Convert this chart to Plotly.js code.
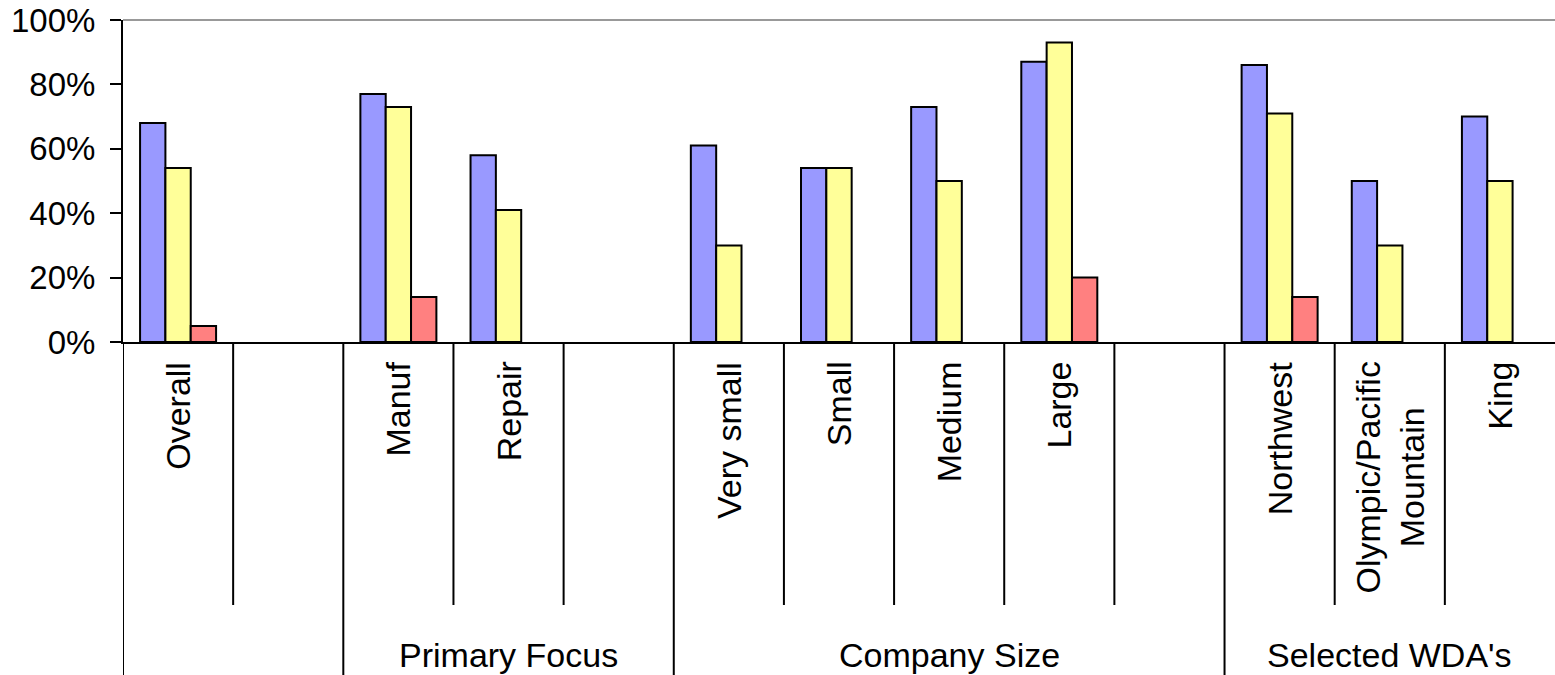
<!DOCTYPE html>
<html>
<head>
<meta charset="utf-8">
<script src="https://cdn.plot.ly/plotly-3.0.1.min.js"></script>
<style>html,body{margin:0;padding:0;background:#fff;}#chart{width:1555px;height:675px;}</style>
</head>
<body>
<div id="chart"></div>
<script>
// Category slots (blank slots are spacers between groups)
const categories = ["Overall", "", "Manuf", "Repair", "", "Very small", "Small", "Medium", "Large", "", "Northwest", "Olympic/Pacific<br>Mountain", "King"];
const series1 = [0.68, null, 0.77, 0.58, null, 0.61, 0.54, 0.73, 0.87, null, 0.86, 0.50, 0.70];
const series2 = [0.54, null, 0.73, 0.41, null, 0.30, 0.54, 0.50, 0.93, null, 0.71, 0.30, 0.50];
const series3 = [0.05, null, 0.14, null, null, null, null, null, 0.20, null, 0.14, null, null];
const groupLabels = ["", "Primary Focus", "Company Size", "Selected WDA's"];
const groupStarts = [0, 2, 5, 10];
const groupEnds = [1, 4, 9, 12];
const yTicks = [0, 0.2, 0.4, 0.6, 0.8, 1.0];

const xs = categories.map((_, i) => i);
const font = "Arial, 'Liberation Sans', sans-serif";
const fs = 34;

function barTrace(name, vals, color) {
  return {
    type: "bar", name: name, x: xs, y: vals,
    marker: {color: color, line: {color: "#000", width: 2}},
    hoverinfo: "y"
  };
}

const data = [
  barTrace("Series 1", series1, "#9999FF"),
  barTrace("Series 2", series2, "#FFFF99"),
  barTrace("Series 3", series3, "#FF8080")
];

const shapes = [];
const annotations = [];
// top border line
shapes.push({type: "line", xref: "paper", yref: "paper", x0: 0, x1: 1, y0: 1, y1: 1, line: {color: "#999", width: 2}});
// dividers between slots
const outer = new Set(groupStarts.map(s => s - 0.5));
for (let i = 0; i < categories.length; i++) {
  const b = i - 0.5;
  const isOuter = outer.has(b);
  shapes.push({type: "line", xref: "x", yref: "paper", x0: b, x1: b, y0: 0, y1: isOuter ? -1.04 : -0.817, line: {color: "#000", width: 2}});
}
// category labels
categories.forEach((c, i) => {
  if (!c) return;
  annotations.push({xref: "x", yref: "paper", x: i, y: -0.055, text: c, textangle: -90, showarrow: false,
    xanchor: "center", yanchor: "top", font: {family: font, size: fs, color: "#000"}});
});
// group labels
groupLabels.forEach((g, k) => {
  if (!g) return;
  annotations.push({xref: "x", yref: "paper", x: (groupStarts[k] + groupEnds[k]) / 2, y: -0.972, text: g, showarrow: false,
    xanchor: "center", yanchor: "middle", font: {family: font, size: fs, color: "#000"}});
});

const layout = {
  width: 1555, height: 675,
  margin: {l: 123, r: 0, t: 20, b: 333, pad: 0},
  paper_bgcolor: "#fff", plot_bgcolor: "#fff",
  showlegend: false,
  barmode: "group", bargap: 0.31, bargroupgap: 0,
  xaxis: {range: [-0.5, 12.5], showticklabels: false, showgrid: false, zeroline: false,
    showline: true, linecolor: "#000", linewidth: 2, ticks: ""},
  yaxis: {range: [0, 1], tickvals: yTicks, tickformat: ".0%", showgrid: false, zeroline: false,
    showline: true, linecolor: "#000", linewidth: 2, ticks: "outside", ticklen: 11, tickwidth: 2, tickcolor: "#000",
    ticklabelstandoff: 8,
    tickfont: {family: font, size: 33, color: "#000"}},
  shapes: shapes,
  annotations: annotations
};

Plotly.newPlot("chart", data, layout, {displayModeBar: false, staticPlot: true});
</script>
</body>
</html>
